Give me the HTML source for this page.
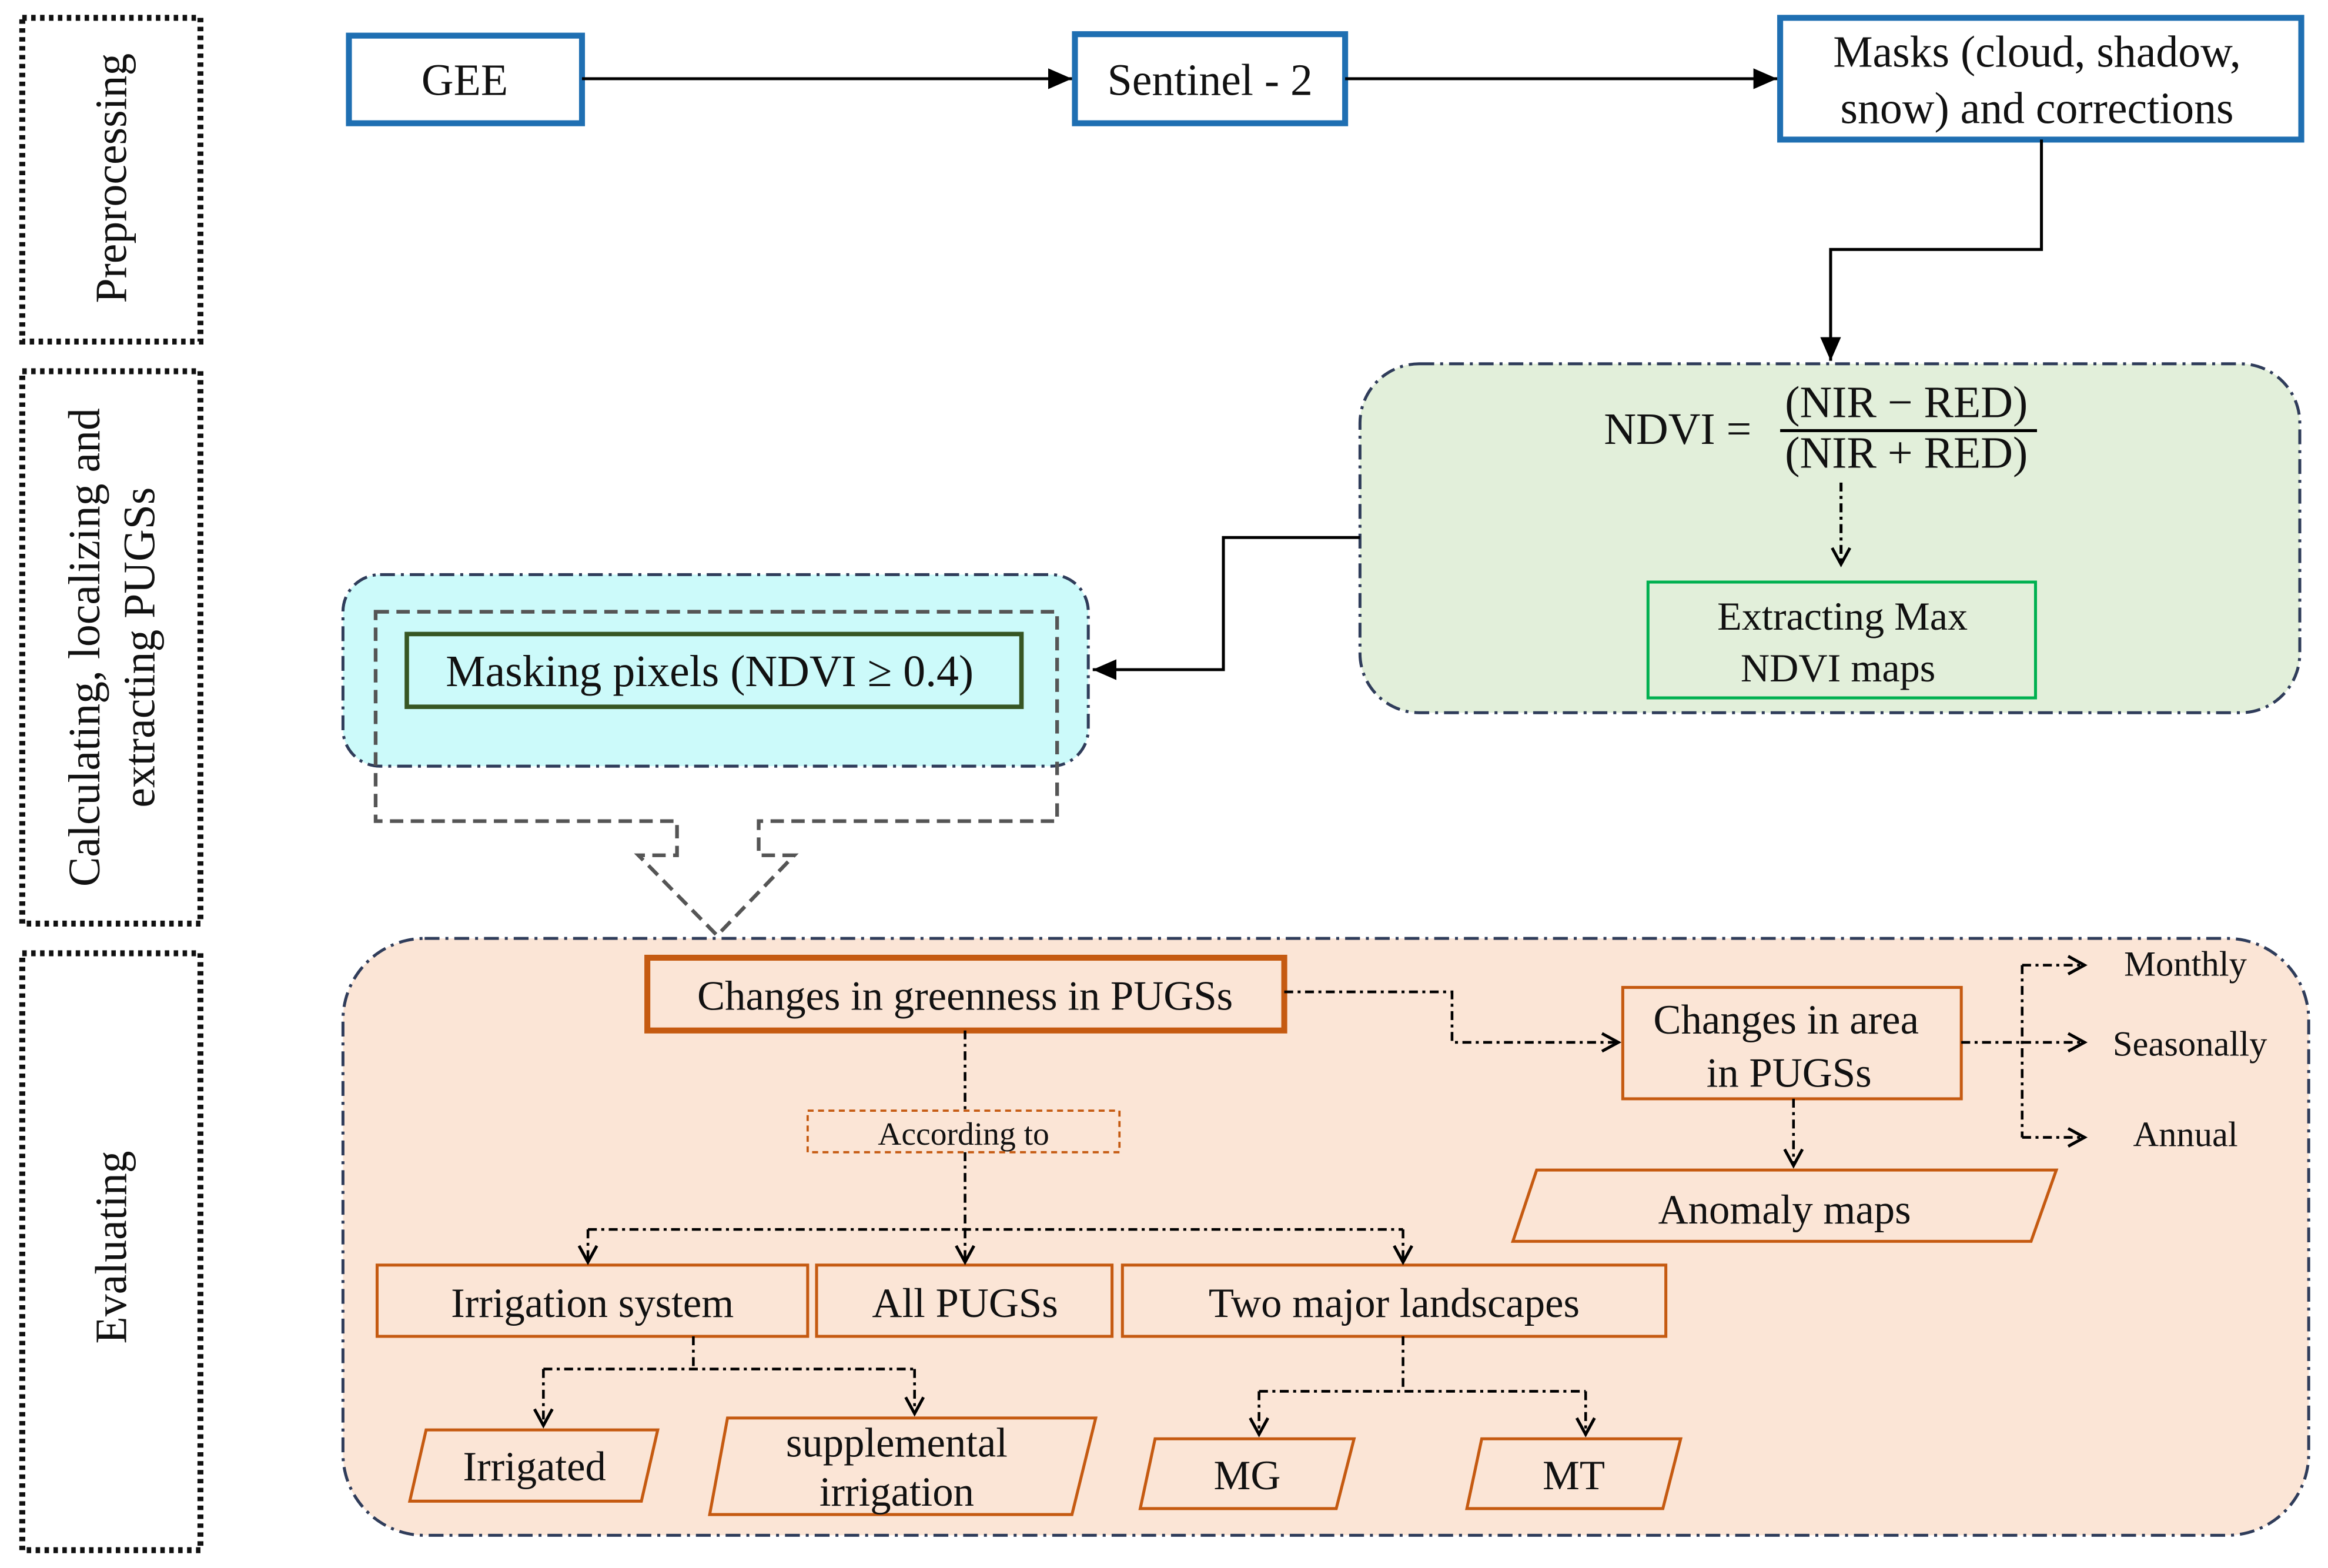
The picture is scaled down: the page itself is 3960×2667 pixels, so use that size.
<!DOCTYPE html>
<html><head><meta charset="utf-8"><style>
html,body{margin:0;padding:0;background:#fff;}
svg{display:block;}
text{font-family:"Liberation Serif",serif;fill:#111;}
</style></head><body>
<svg width="3960" height="2667" viewBox="0 0 1568 1056" xmlns="http://www.w3.org/2000/svg">
<defs>
<marker id="a" markerWidth="10" markerHeight="10" refX="9" refY="5" orient="auto" markerUnits="userSpaceOnUse"><path d="M0,0 L10,5 L0,10 z" fill="#000"/></marker>
<marker id="b" markerWidth="18" markerHeight="14" refX="16" refY="7" orient="auto" markerUnits="userSpaceOnUse"><path d="M0,0 L16,7 L0,14 z" fill="#000"/></marker>
<marker id="o" markerWidth="14" markerHeight="14" refX="12" refY="7" orient="auto" markerUnits="userSpaceOnUse"><path d="M1,1 L12,7 L1,13" fill="none" stroke="#000" stroke-width="2"/></marker>
</defs>
<!-- left stage boxes -->
<g fill="none" stroke="#111" stroke-width="4" stroke-dasharray="3,3">
<rect x="15" y="12" width="120" height="218"/>
<rect x="15" y="250" width="120" height="372"/>
<rect x="15" y="642" width="120" height="402"/>
</g>
<text transform="translate(85,120) rotate(-90)" text-anchor="middle" font-size="30">Preprocessing</text>
<text transform="translate(67,436) rotate(-90)" text-anchor="middle" font-size="30">Calculating, localizing and</text>
<text transform="translate(104,436) rotate(-90)" text-anchor="middle" font-size="30">extracting PUGSs</text>
<text transform="translate(85,840) rotate(-90)" text-anchor="middle" font-size="30">Evaluating</text>

<!-- regions -->
<g stroke="#2f3c5a" stroke-width="2" stroke-dasharray="10,4,2,4">
<rect x="916" y="245" width="633" height="235" rx="40" fill="#e2efda"/>
<rect x="231" y="387" width="502" height="129" rx="25" fill="#ccfafa"/>
<rect x="231" y="632" width="1324" height="402" rx="55" fill="#fbe5d6"/>
</g>

<!-- preprocessing boxes -->
<g fill="#fff" stroke="#1f6fb2" stroke-width="4">
<rect x="235" y="24" width="157" height="59"/>
<rect x="724" y="23" width="182" height="60"/>
<rect x="1199" y="12" width="351" height="82"/>
</g>
<text x="313" y="64" text-anchor="middle" font-size="30">GEE</text>
<text x="815" y="64" text-anchor="middle" font-size="30">Sentinel - 2</text>
<text x="1372" y="45" text-anchor="middle" font-size="30">Masks (cloud, shadow,</text>
<text x="1372" y="83" text-anchor="middle" font-size="30">snow) and corrections</text>
<g fill="none" stroke="#000" stroke-width="2">
<line x1="392" y1="53" x2="722" y2="53" marker-end="url(#b)"/>
<line x1="906" y1="53" x2="1197" y2="53" marker-end="url(#b)"/>
<polyline points="1375,94 1375,168 1233,168 1233,243" marker-end="url(#b)"/>
<polyline points="916,362 824,362 824,451 736,451" marker-end="url(#b)"/>
</g>

<!-- NDVI -->
<text x="1130" y="299" text-anchor="middle" font-size="30">NDVI =</text>
<text x="1284" y="281" text-anchor="middle" font-size="30">(NIR − RED)</text>
<line x1="1199" y1="290" x2="1372" y2="290" stroke="#000" stroke-width="2"/>
<text x="1284" y="315" text-anchor="middle" font-size="30">(NIR + RED)</text>
<line x1="1240" y1="325" x2="1240" y2="380" stroke="#000" stroke-width="2" stroke-dasharray="6,3,2,3" marker-end="url(#o)"/>
<rect x="1110" y="392" width="261" height="78" fill="none" stroke="#00b050" stroke-width="2"/>
<text x="1241" y="424" text-anchor="middle" font-size="27">Extracting Max</text>
<text x="1238" y="459" text-anchor="middle" font-size="27">NDVI maps</text>

<!-- masking -->
<polygon points="253,412 712,412 712,553 511,553 511,576 535,576 483,630 430,576 456,576 456,553 253,553" fill="none" stroke="#555" stroke-width="2.5" stroke-dasharray="9,5"/>
<rect x="274" y="427" width="414" height="49" fill="none" stroke="#375623" stroke-width="3"/>
<text x="478" y="462" text-anchor="middle" font-size="30">Masking pixels (NDVI ≥ 0.4)</text>

<!-- evaluating -->
<g fill="none" stroke="#c55a11">
<rect x="436" y="645" width="429" height="49" stroke-width="4"/>
<rect x="1093" y="665" width="228" height="75" stroke-width="2"/>
<rect x="544" y="748" width="210" height="28" stroke-width="1.5" stroke-dasharray="4,3"/>
<rect x="254" y="852" width="290" height="48" stroke-width="2"/>
<rect x="550" y="852" width="199" height="48" stroke-width="2"/>
<rect x="756" y="852" width="366" height="48" stroke-width="2"/>
<polygon points="1035,788 1385,788 1368,836 1019,836" stroke-width="2"/>
<polygon points="287,963 443,963 432,1011 276,1011" stroke-width="2"/>
<polygon points="490,955 738,955 722,1020 478,1020" stroke-width="2"/>
<polygon points="778,969 912,969 900,1016 768,1016" stroke-width="2"/>
<polygon points="998,969 1132,969 1120,1016 988,1016" stroke-width="2"/>
</g>
<text x="650" y="680" text-anchor="middle" font-size="28">Changes in greenness in PUGSs</text>
<text x="1203" y="696" text-anchor="middle" font-size="28">Changes in area</text>
<text x="1205" y="732" text-anchor="middle" font-size="28">in PUGSs</text>
<text x="649" y="771" text-anchor="middle" font-size="22">According to</text>
<text x="399" y="887" text-anchor="middle" font-size="28">Irrigation system</text>
<text x="650" y="887" text-anchor="middle" font-size="28">All PUGSs</text>
<text x="939" y="887" text-anchor="middle" font-size="28">Two major landscapes</text>
<text x="1202" y="824" text-anchor="middle" font-size="28">Anomaly maps</text>
<text x="360" y="997" text-anchor="middle" font-size="28">Irrigated</text>
<text x="604" y="981" text-anchor="middle" font-size="28">supplemental</text>
<text x="604" y="1014" text-anchor="middle" font-size="28">irrigation</text>
<text x="840" y="1003" text-anchor="middle" font-size="28">MG</text>
<text x="1060" y="1003" text-anchor="middle" font-size="28">MT</text>
<text x="1472" y="657" text-anchor="middle" font-size="24">Monthly</text>
<text x="1475" y="711" text-anchor="middle" font-size="24">Seasonally</text>
<text x="1472" y="772" text-anchor="middle" font-size="24">Annual</text>

<g fill="none" stroke="#000" stroke-width="1.8" stroke-dasharray="6,3,2,3">
<polyline points="865,668 978,668 978,702 1090,702" marker-end="url(#o)"/>
<line x1="1321" y1="702" x2="1362" y2="702"/>
<line x1="1362" y1="650" x2="1362" y2="766"/>
<line x1="1362" y1="650" x2="1404" y2="650" marker-end="url(#o)"/>
<line x1="1362" y1="702" x2="1404" y2="702" marker-end="url(#o)"/>
<line x1="1362" y1="766" x2="1404" y2="766" marker-end="url(#o)"/>
<line x1="1208" y1="740" x2="1208" y2="785" marker-end="url(#o)"/>
<line x1="650" y1="694" x2="650" y2="748"/>
<line x1="650" y1="776" x2="650" y2="828"/>
<line x1="396" y1="828" x2="945" y2="828"/>
<line x1="396" y1="828" x2="396" y2="850" marker-end="url(#o)"/>
<line x1="650" y1="828" x2="650" y2="850" marker-end="url(#o)"/>
<line x1="945" y1="828" x2="945" y2="850" marker-end="url(#o)"/>
<line x1="467" y1="900" x2="467" y2="922"/>
<line x1="366" y1="922" x2="616" y2="922"/>
<line x1="366" y1="922" x2="366" y2="960" marker-end="url(#o)"/>
<line x1="616" y1="922" x2="616" y2="952" marker-end="url(#o)"/>
<line x1="945" y1="900" x2="945" y2="937"/>
<line x1="848" y1="937" x2="1068" y2="937"/>
<line x1="848" y1="937" x2="848" y2="966" marker-end="url(#o)"/>
<line x1="1068" y1="937" x2="1068" y2="966" marker-end="url(#o)"/>
</g>
</svg>
</body></html>
